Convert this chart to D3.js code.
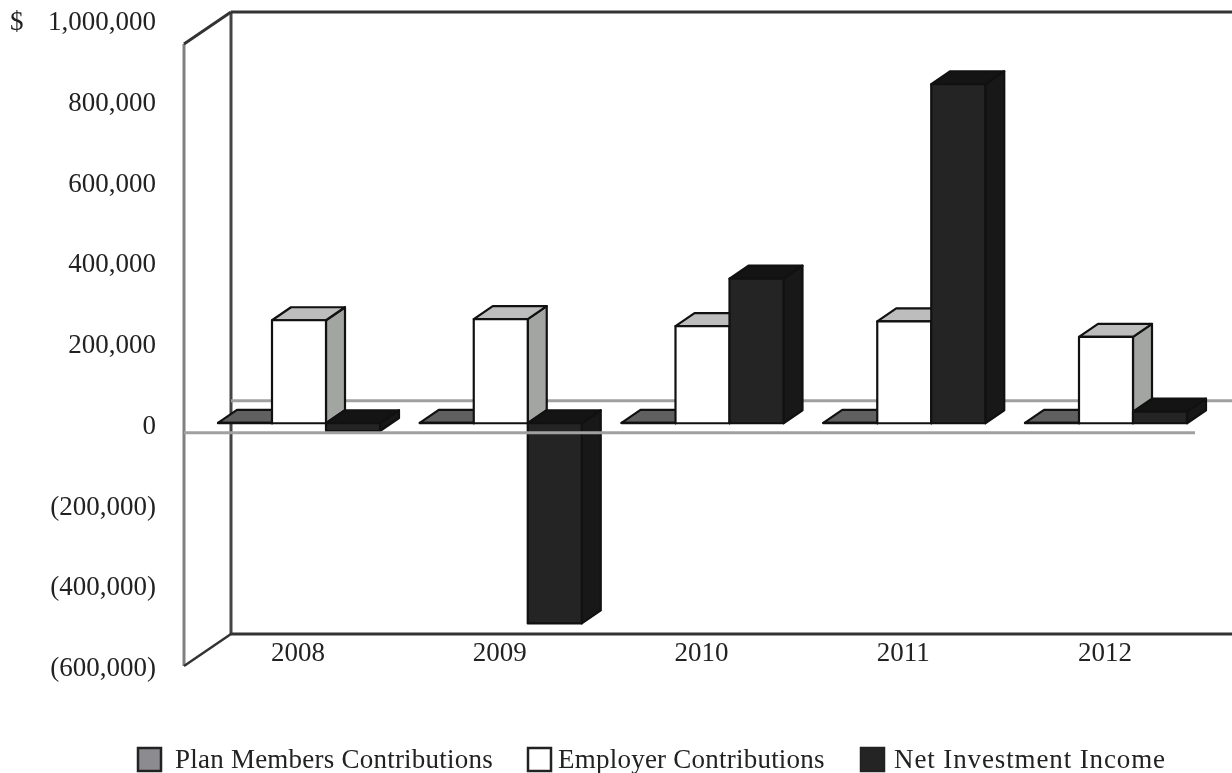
<!DOCTYPE html>
<html><head><meta charset="utf-8">
<script src="https://cdn.jsdelivr.net/npm/d3@7"></script>
<style>html,body{margin:0;background:#fff;overflow:hidden}svg{filter:blur(0.45px)}text{font-family:"Liberation Serif",serif;fill:#222}</style>
</head><body><svg id="c" width="1232" height="773"></svg>
<script>
const years=["2008","2009","2010","2011","2012"];
const seriesNames=["Plan Members Contributions","Employer Contributions","Net Investment Income"];
const planMembers=[1000,1000,1000,1000,1000];
const employer=[265000,268000,250000,262000,222000];
const netInvestment=[-20000,-515000,372000,872000,30000];
const tickValues=[1000000,800000,600000,400000,200000,0,-200000,-400000,-600000];
const tickLabels=["1,000,000","800,000","600,000","400,000","200,000","0","(200,000)","(400,000)","(600,000)"];
const colors=[
 {front:"#5c5c5c",top:"#606060",side:"#333"},
 {front:"#ffffff",top:"#bdbdbd",side:"#a3a5a3"},
 {front:"#242424",top:"#141414",side:"#181818"}];
const swatch=["#8c8c90","#ffffff","#242424"];
const legendX=[137,527,860];
const legendTextX=[175,558,894];
const legendSpacing=[0.23,0.23,0.88];
const svg=d3.select("#c");
const y=d3.scaleLinear().domain([-600000,1000000]).range([666,44]);
const labelY=d3.scaleLinear().domain([-600000,1000000]).range([676,30]);
const xGroup=d3.scalePoint().domain(years).range([299,1106]);
const xBar=d3.scaleBand().domain(seriesNames).range([-81,81]);
const wall={dx:47,dy:-32}, plane={dy:-9.5}, depth={dx:19,dy:-13};
const L=184,Rb=1232,Rf=1195;
const g=svg.append("g");
const line=(x1,y1,x2,y2,c,w)=>g.append("line").attr("x1",x1).attr("y1",y1).attr("x2",x2).attr("y2",y2).attr("stroke",c).attr("stroke-width",w);
// walls
line(L,y(1000000),L,y(-600000),"#808080",3);
line(L+wall.dx,y(1000000)+wall.dy,L+wall.dx,y(-600000)+wall.dy,"#444",3);
line(L,y(1000000),L+wall.dx,y(1000000)+wall.dy,"#333",3);
line(L,y(-600000),L+wall.dx,y(-600000)+wall.dy,"#333",2.5);
line(L+wall.dx,y(1000000)+wall.dy,Rb,y(1000000)+wall.dy,"#333",3);
line(L+wall.dx,y(-600000)+wall.dy,Rb,y(-600000)+wall.dy,"#333",3);
line(L+wall.dx,y(0)+wall.dy,Rb,y(0)+wall.dy,"#a0a0a0",3);
// bars
const allValues=[planMembers,employer,netInvestment];
years.forEach((yr,i)=>{
 seriesNames.forEach((s,k)=>{
  const v=allValues[k][i], c=colors[k];
  const x0=xGroup(yr)+xBar(s), w=xBar.bandwidth();
  const y0=y(0)+plane.dy, yv=y(v)+plane.dy;
  const t=Math.min(y0,yv), b=Math.max(y0,yv);
  const d=depth;
  const bar=g.append("g").attr("stroke","#111").attr("stroke-width",2.2).attr("stroke-linejoin","round");
  const path=pts=>bar.append("path").attr("d",d3.line()(pts)+"Z");
  path([[x0+w,t],[x0+w+d.dx,t+d.dy],[x0+w+d.dx,b+d.dy],[x0+w,b]]).attr("fill",c.side);
  path([[x0,t],[x0+d.dx,t+d.dy],[x0+w+d.dx,t+d.dy],[x0+w,t]]).attr("fill",c.top);
  path([[x0,t],[x0+w,t],[x0+w,b],[x0,b]]).attr("fill",c.front);
 });
});
line(L,y(0),Rf,y(0),"#a0a0a0",3);
// labels
tickValues.forEach((v,i)=>{
 svg.append("text").attr("x",156).attr("y",labelY(v)).attr("text-anchor","end")
  .attr("font-size",27).text(tickLabels[i]);
});
svg.append("text").attr("x",10).attr("y",labelY(1000000)).attr("font-size",27).text("$");
years.forEach(yr=>{
 svg.append("text").attr("x",xGroup(yr)-1).attr("y",661).attr("text-anchor","middle")
  .attr("font-size",27).text(yr);
});
seriesNames.forEach((s,k)=>{
 svg.append("rect").attr("x",legendX[k]+1).attr("y",748).attr("width",23).attr("height",23)
  .attr("fill",swatch[k]).attr("stroke","#222").attr("stroke-width",2.5);
 svg.append("text").attr("x",legendTextX[k]).attr("y",768).attr("font-size",27).attr("letter-spacing",legendSpacing[k]).text(s);
});
</script></body></html>
